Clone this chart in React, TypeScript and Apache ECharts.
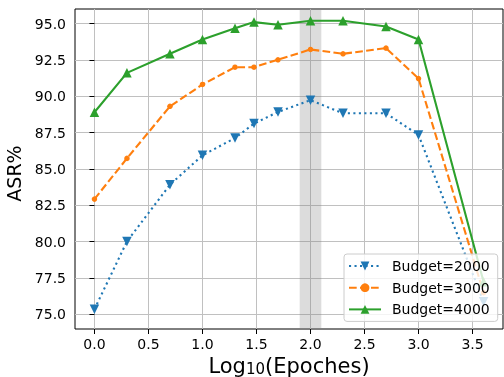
import React, { useEffect, useRef } from 'react';
import * as echarts from 'echarts';

const logEpochs = [0, 0.301, 0.699, 1, 1.301, 1.477, 1.699, 2, 2.301, 2.699, 3, 3.602];
const budget2000 = [75.36, 80.02, 83.92, 85.94, 87.13, 88.12, 88.92, 89.73, 88.83, 88.83, 87.34, 75.88];
const budget3000 = [82.93, 85.73, 89.31, 90.81, 92.0, 92.0, 92.51, 93.22, 92.92, 93.31, 91.22, 76.5];
const budget4000 = [88.9, 91.61, 92.92, 93.9, 94.68, 95.1, 94.92, 95.19, 95.19, 94.8, 93.9, 77.25];
const seriesNames = ['Budget=2000', 'Budget=3000', 'Budget=4000'];
const xTicks = [0, 0.5, 1, 1.5, 2, 2.5, 3, 3.5];
const yTicks = [75, 77.5, 80, 82.5, 85, 87.5, 90, 92.5, 95];
const band = [1.9, 2.1];

const FONT = 'DejaVu Sans';

export default function App() {
  const ref = useRef<HTMLDivElement>(null);
  useEffect(() => {
    const chart = echarts.init(ref.current!, null, { renderer: 'svg' });
    const pts = (ys: number[]) => logEpochs.map((x, i) => [x, ys[i]]);
    const fmt = (v: number) =>
      Math.abs(v * 2 - Math.round(v * 2)) < 1e-6 ? v.toFixed(1) : '';
    chart.setOption({
      animation: false,
      grid: {
        left: 75,
        right: 1,
        top: 9,
        bottom: 48,
        show: true,
        borderColor: '#000',
        borderWidth: 1,
        backgroundColor: 'transparent',
        containLabel: false,
        outerBoundsMode: 'none',
      },
      xAxis: {
        type: 'value',
        min: -0.18,
        max: 3.782,
        minInterval: 0.5,
        maxInterval: 0.5,
        axisLine: { show: false },
        axisTick: { show: true, length: 5, lineStyle: { color: '#000', width: 1 }, customValues: xTicks },
        axisLabel: { customValues: xTicks, formatter: fmt, fontSize: 14, color: '#000', fontFamily: FONT, margin: 8 },
        splitLine: { show: true, lineStyle: { color: '#c0c0c0', width: 1 } },
        name: '{a|Log}{b|10}{a|(Epoches)}',
        nameLocation: 'middle',
        nameGap: 22,
        nameTextStyle: {
          rich: {
            a: { fontSize: 21, fontFamily: FONT, color: '#000', lineHeight: 21 },
            b: { fontSize: 15, fontFamily: FONT, color: '#000', lineHeight: 14, verticalAlign: 'bottom' },
          },
        },
      },
      yAxis: {
        type: 'value',
        min: 74,
        max: 96,
        minInterval: 2.5,
        maxInterval: 2.5,
        axisLine: { show: false },
        axisTick: { show: true, length: 5, lineStyle: { color: '#000', width: 1 }, customValues: yTicks },
        axisLabel: {
          customValues: yTicks,
          formatter: (v: number) => (Math.abs(v / 2.5 - Math.round(v / 2.5)) < 1e-6 ? v.toFixed(1) : ''),
          fontSize: 14,
          color: '#000',
          fontFamily: FONT,
          margin: 9,
        },
        splitLine: { show: true, lineStyle: { color: '#c0c0c0', width: 1 } },
        name: 'ASR%',
        nameLocation: 'middle',
        nameGap: 47,
        nameTextStyle: { fontSize: 19, fontFamily: FONT, color: '#000', padding: [0, 9, 0, 0] },
      },
      legend: {
        orient: 'vertical',
        left: 344,
        top: 254,
        itemWidth: 32,
        itemHeight: 11,
        itemGap: 5.7,
        padding: [4, 8, 4, 4],
        backgroundColor: 'rgba(255,255,255,0.8)',
        borderColor: '#cccccc',
        borderWidth: 1,
        borderRadius: 3,
        selectedMode: false,
        textStyle: { fontSize: 14, fontFamily: FONT, color: '#000', lineHeight: 16, padding: [0, 0, 0, 6] },
        data: seriesNames,
      },
      series: [
        {
          type: 'line',
          data: [],
          silent: true,
          markArea: {
            silent: true,
            itemStyle: { color: 'rgba(128,128,128,0.28)' },
            data: [[{ xAxis: band[0] }, { xAxis: band[1] }]],
          },
        },
        {
          name: seriesNames[0],
          type: 'line',
          data: pts(budget2000),
          symbol: 'triangle',
          symbolRotate: 180,
          symbolSize: 9.5,
          lineStyle: { color: '#1f77b4', width: 2.1, type: [2.1, 3.4] },
          itemStyle: { color: '#1f77b4' },
        },
        {
          name: seriesNames[1],
          type: 'line',
          data: pts(budget3000),
          symbol: 'circle',
          symbolSize: 5.5,
          lineStyle: { color: '#ff7f0e', width: 2.1, type: [7.7, 3.3] },
          itemStyle: { color: '#ff7f0e' },
        },
        {
          name: seriesNames[2],
          type: 'line',
          data: pts(budget4000),
          symbol: 'triangle',
          symbolSize: 9.5,
          lineStyle: { color: '#2ca02c', width: 2.1 },
          itemStyle: { color: '#2ca02c' },
        },
      ],
    });
    return () => chart.dispose();
  }, []);
  return <div ref={ref} style={{ position: 'fixed', left: 0, top: 0, width: 504, height: 377 }} />;
}
